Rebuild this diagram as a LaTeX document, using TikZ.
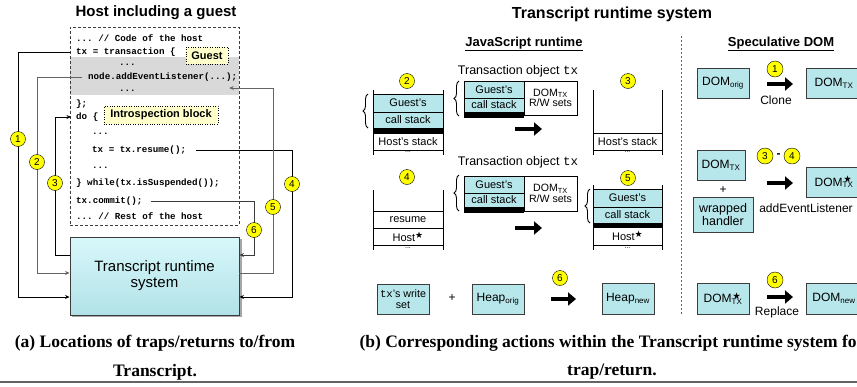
\documentclass[tikz,border=0pt]{standalone}
\usepackage{fontspec}
\setmainfont{Liberation Serif}
\setsansfont{Liberation Sans}
\setmonofont{Liberation Mono}
\usepackage{amssymb}
\usetikzlibrary{arrows.meta,decorations.pathreplacing}
\definecolor{cellc}{RGB}{183,230,235}
\definecolor{boxtop}{RGB}{216,248,251}
\definecolor{boxbot}{RGB}{178,226,231}
\definecolor{guestgray}{RGB}{217,217,217}
\definecolor{noteyellow}{RGB}{255,255,204}
\definecolor{circy}{RGB}{255,255,0}
\definecolor{lgray}{RGB}{100,100,100}
\definecolor{edgec}{RGB}{60,60,60}
\newcommand{\fs}[1]{\fontsize{#1}{#1}\selectfont}
\newcommand{\hoststar}{Host\textsuperscript{$\bigstar$}}
\newcommand{\domstar}{DOM\rlap{\textsuperscript{\,$\bigstar$}}\textsubscript{TX}}
\begin{document}
\begin{tikzpicture}[x=1pt,y=-1pt,
  num/.style={circle,draw=black,fill=circy,inner sep=0pt,minimum size=15pt,font=\sffamily\fs{10}},
  code/.style={anchor=west,inner sep=0pt,text height=1.5ex,text depth=0.3ex,font=\ttfamily\bfseries\fs{9.2}},
  note/.style={draw=black,dotted,fill=noteyellow,inner sep=0pt,font=\sffamily\bfseries\fs{11}},
  cellbox/.style={draw=black,fill=cellc,inner sep=0pt,font=\sffamily\fs{11}},
  wcell/.style={draw=black,fill=white,inner sep=0pt,font=\sffamily\fs{11}},
  dombox/.style={draw=edgec,fill=cellc,inner sep=0pt,font=\sffamily\fs{12},align=center},
  lbl/.style={inner sep=0pt,font=\sffamily\fs{12}},
  dots/.style={inner sep=0pt,font=\sffamily\fs{7}},
  bigarrow/.style={line width=4.5pt,-{Triangle[length=8pt,width=13pt]}},
  conn/.style={line width=0.9pt,-{Stealth[length=4.5pt,width=4pt]}},
  brc/.style={decorate,decoration={brace,amplitude=5pt},line width=0.9pt},
  stk/.style={line width=0.9pt,draw=black},
  hd/.style={inner sep=0pt,font=\sffamily\bfseries\fs{13}},
  capt/.style={inner sep=0pt,font=\rmfamily\bfseries\fs{17.5}}
]
\useasboundingbox (0,0) rectangle (857,386);
\clip (0,0) rectangle (857,386);
\fill[white] (0,0) rectangle (857,386);

% ---------------- Left panel ----------------
\node[inner sep=0pt,font=\sffamily\bfseries\fs{15}] (ltitle) at (156,13) {Host including a guest};
\node[fill=guestgray,minimum width=169pt,minimum height=38pt,inner sep=0pt] (guestband) at (154.5,76) {};
\node[draw=edgec,dash pattern=on 3pt off 2pt,line width=0.9pt,minimum width=169pt,minimum height=198pt,inner sep=0pt] (codebox) at (154.5,126) {};

\node[code] (c1) at (76,39) {... // Code of the host};
\node[code] (c2) at (76,52) {tx = transaction \{};
\node[code] (c3) at (119,63) {...};
\node[code] (c4) at (88,77) {node.addEventListener(...);};
\node[code] (c5) at (119,89) {...};
\node[code] (c6) at (76,104) {\};};
\node[code] (c7) at (76,117) {do \{};
\node[code] (c8) at (92,132) {...};
\node[code] (c9) at (92,150) {tx = tx.resume();};
\node[code] (c10) at (92,166) {...};
\node[code] (c11) at (76,183) {\} while(tx.isSuspended());};
\node[code] (c12) at (76,201) {tx.commit();};
\node[code] (c13) at (76,217) {... // Rest of the host};

\node[note,minimum width=42pt,minimum height=17pt] (guestlbl) at (207,55.5) {Guest};
\node[note,minimum width=114pt,minimum height=18pt] (intro) at (161,115) {Introspection block};

\fill[black!35] (71.5,238.5) rectangle (241.5,317);
\node[draw=edgec,top color=boxtop,bottom color=boxbot,line width=0.9pt,minimum width=169pt,minimum height=78pt,inner sep=0pt,align=center,font=\sffamily\fs{15}] (trs) at (154.5,276) {Transcript runtime\\[1pt]system};

% connectors
\draw[conn,black] ([xshift=-6pt]c2.west) -- (18,52) |- ([yshift=-21pt]trs.west);
\draw[conn,lgray] ([xshift=-6pt]c4.west) -- (37,77) |- ([yshift=3pt]trs.west);
\draw[conn,black] ([yshift=21pt]trs.west) -- (55,255) -- (55,117) -- ([xshift=-5pt]c7.west);
\draw[conn,black] ([xshift=10pt]c9.east) -- (292,150) |- ([yshift=-21pt]trs.east);
\draw[conn,lgray] ([yshift=3pt]trs.east) -| (273,88) -- ([shift={(-10pt,-12pt)}]guestband.east);
\draw[conn,edgec] ([xshift=8pt]c12.east) -- (254,201) |- ([yshift=21pt]trs.east);

\node[num] (l1) at (18,139) {1};
\node[num] (l2) at (37,162) {2};
\node[num] (l3) at (55,183) {3};
\node[num] (l4) at (292,184) {4};
\node[num] (l5) at (273,207) {5};
\node[num] (l6) at (254,230) {6};

\node[capt] (capa1) at (155,343) {(a) Locations of traps/returns to/from};
\node[capt] (capa2) at (155,372) {Transcript.};

% ---------------- Right panel ----------------
\node[inner sep=0pt,font=\sffamily\bfseries\fs{16}] (rtitle) at (612,14) {Transcript runtime system};
\node[hd] (jshd) at (524,44) {\underline{JavaScript runtime}};
\node[hd] (sdhd) at (781,44) {\underline{Speculative DOM}};
\draw[lgray,line width=1pt,dash pattern=on 2pt off 2pt] (681,36) -- (681,314);

% stack 2
\node[num] (n2) at (407,81) {2};
\draw[stk] (373,90) -- (373,155);
\draw[stk] (443,90) -- (443,155);
\node[cellbox,minimum width=70pt,minimum height=18pt] (s2g) at (408,103) {Guest's};
\node[cellbox,minimum width=70pt,minimum height=16pt] (s2c) at (408,120) {call stack};
\fill[black] (373,128) rectangle (443,133);
\node[wcell,minimum width=70pt,minimum height=17pt] (s2h) at (408,141.5) {Host's stack};
\node[dots] (s2d) at (408,152) {...};
\draw[brc] (368,128) -- (368,94);

% transaction object 1
\node[lbl,font=\sffamily\fs{12.5}] (tx1) at (518,71) {Transaction object \texttt{tx}};
\node[cellbox,minimum width=60pt,minimum height=17pt] (t1g) at (494,89.5) {Guest's};
\node[cellbox,minimum width=60pt,minimum height=14pt] (t1c) at (494,105) {call stack};
\fill[black] (464,112) rectangle (524,118);
\node[wcell,minimum width=53pt,minimum height=34pt,align=center,font=\sffamily\fs{10.6}] (t1w) at (550.5,98) {DOM\textsubscript{TX}\\R/W sets};
\draw[brc] (459,116) -- (459,81);
\draw[bigarrow] (515,129) -- (542,129);

% stack 3
\node[num] (n3) at (628,81) {3};
\draw[stk] (593,90) -- (593,155);
\draw[stk] (662,90) -- (662,155);
\node[wcell,minimum width=69pt,minimum height=17pt] (s3h) at (627.5,141.5) {Host's stack};
\node[dots] (s3d) at (627.5,152) {...};

% stack 4
\node[num] (n4) at (407,177) {4};
\draw[stk] (373,190) -- (373,250);
\draw[stk] (443,190) -- (443,250);
\node[wcell,minimum width=70pt,minimum height=17pt] (s4r) at (408,219.5) {resume};
\node[wcell,minimum width=70pt,minimum height=17pt] (s4h) at (408,236.5) {\hoststar};
\node[dots] (s4d) at (408,248) {...};

% transaction object 2
\node[lbl,font=\sffamily\fs{12.5}] (tx2) at (518,162) {Transaction object \texttt{tx}};
\node[cellbox,minimum width=60pt,minimum height=17pt] (t2g) at (494,184.5) {Guest's};
\node[cellbox,minimum width=60pt,minimum height=14pt] (t2c) at (494,200) {call stack};
\fill[black] (464,207) rectangle (524,213);
\node[wcell,minimum width=53pt,minimum height=35pt,align=center,font=\sffamily\fs{10.6}] (t2w) at (550.5,193.5) {DOM\textsubscript{TX}\\R/W sets};
\draw[brc] (459,211) -- (459,175);
\draw[bigarrow] (515,228) -- (542,228);

% stack 5
\node[num] (n5) at (628,178) {5};
\draw[stk] (593,185) -- (593,250);
\draw[stk] (662,185) -- (662,250);
\node[cellbox,minimum width=69pt,minimum height=18pt] (s5g) at (627.5,198) {Guest's};
\node[cellbox,minimum width=69pt,minimum height=16pt] (s5c) at (627.5,215) {call stack};
\fill[black] (593,223) rectangle (662,227);
\node[wcell,minimum width=69pt,minimum height=18pt] (s5h) at (627.5,236) {\hoststar};
\node[dots] (s5d) at (627.5,248) {...};
\draw[brc] (590,223) -- (590,189);

% heap row
\node[dombox,minimum width=52pt,minimum height=30pt,font=\sffamily\fs{10.7}] (ws) at (403,299) {\texttt{tx}'s write\\set};
\node[lbl] (plus1) at (452,298) {+};
\node[dombox,minimum width=52pt,minimum height=30pt] (horig) at (498,299) {Heap\textsubscript{orig}};
\node[num] (n6a) at (560,278) {6};
\draw[bigarrow] (551,299) -- (576,299);
\node[dombox,minimum width=52pt,minimum height=31pt] (hnew) at (628,298.5) {Heap\textsubscript{new}};

% speculative DOM
\node[dombox,minimum width=52pt,minimum height=30pt] (dorig) at (723,83) {DOM\textsubscript{orig}};
\node[num,minimum size=16pt] (d1) at (775,69) {1};
\draw[bigarrow] (767,84) -- (793,84);
\node[lbl] (clone) at (776,100) {Clone};
\node[dombox,minimum width=56pt,minimum height=30pt] (dtx1) at (834,83) {DOM\textsubscript{TX}};

\node[dombox,minimum width=48pt,minimum height=30pt] (dtx2) at (721,165) {DOM\textsubscript{TX}};
\node[lbl] (plus2) at (723,190) {+};
\node[dombox,minimum width=60pt,minimum height=35pt,font=\sffamily\fs{12.5}] (wh) at (723,214.5) {wrapped\\handler};
\node[num,minimum size=16pt] (d3) at (765,156) {3};
\node[lbl,font=\sffamily\bfseries\fs{12}] (dash34) at (778.5,156) {-};
\node[num,minimum size=16pt] (d4) at (792,156) {4};
\draw[bigarrow] (767,183) -- (793,183);
\node[dombox,minimum width=56pt,minimum height=30pt] (dstar1) at (834,182) {\domstar};
\node[lbl] (ael) at (806,208) {addEventListener};

\node[dombox,minimum width=52pt,minimum height=31pt] (dstar2) at (723,298.5) {\domstar};
\node[num,minimum size=16pt] (d6) at (775,280) {6};
\draw[bigarrow] (767,297) -- (793,297);
\node[lbl] (replace) at (777,312) {Replace};
\node[dombox,minimum width=56pt,minimum height=31pt] (dnew) at (834,298.5) {DOM\textsubscript{new}};

\node[capt] (capb1) at (612,343) {(b) Corresponding actions within the Transcript runtime system for};
\node[capt] (capb2) at (612,372) {trap/return.};

\draw[lgray,line width=1.5pt] (0,382) -- (857,382);
\end{tikzpicture}
\end{document}
